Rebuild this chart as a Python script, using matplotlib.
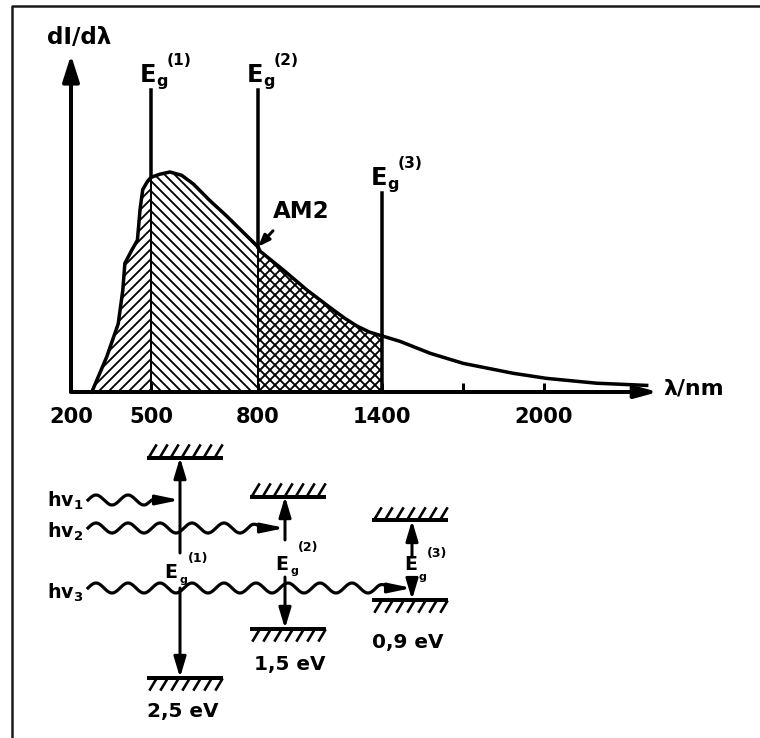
import numpy as np
import matplotlib.pyplot as plt

plt.rcParams['font.family'] = 'DejaVu Sans'
plt.rcParams['font.weight'] = 'bold'
plt.rcParams['mathtext.default'] = 'bf'
plt.rcParams['hatch.linewidth'] = 1.1
plt.rcParams['hatch.color'] = 'black'

# AM2 solar spectrum, relative units (peak = 1)
wl = [278, 334, 377, 394, 402, 428, 449, 459, 469, 486, 500, 525, 553, 586,
      619, 665, 712, 759, 800, 810, 922, 1036, 1164, 1220, 1278, 1340, 1400,
      1467, 1578, 1701, 1886, 2009, 2194, 2380]
dI = [0.0, 0.16, 0.31, 0.46, 0.585, 0.645, 0.69, 0.83, 0.92, 0.956, 0.976,
      0.99, 1.0, 0.985, 0.945, 0.87, 0.80, 0.725, 0.66, 0.64, 0.555, 0.464,
      0.373, 0.335, 0.30, 0.272, 0.255, 0.23, 0.176, 0.13, 0.085, 0.062,
      0.04, 0.03]
gap_nm = [500, 800, 1400]
tick_nm = [200, 500, 800, 1400, 1700, 2000]
tick_lbl = ['200', '500', '800', '1400', '', '2000']

# band gaps of the three absorbers
gap_eV = [2.5, 1.5, 0.9]
gap_lbl = ['2,5 eV', '1,5 eV', '0,9 eV']
photon_lbl = ['hv$_1$', 'hv$_2$', 'hv$_3$']

DPI = 120
W, H = 760, 738


def pt(px):
    return px * 72.0 / DPI


def box(x0, y0, x1, y1):
    return [x0 / W, 1 - y1 / H, (x1 - x0) / W, (y1 - y0) / H]


def ftxt(x, y, s, size, ha='center', va='baseline'):
    fig.text(x / W, 1 - y / H, s, fontsize=pt(size), ha=ha, va=va)


# wavelength axis is stretched unevenly (schematic)
knot_nm = [0, 200, 500, 800, 1400, 2000, 3000]
knot_px = [17.7, 71, 151, 258, 382, 544, 814]


def fwd(x):
    return np.interp(x, knot_nm, knot_px)


def inv(p):
    return np.interp(p, knot_px, knot_nm)


fig = plt.figure(figsize=(W / DPI, H / DPI), dpi=DPI)

# outer frame
bg = fig.add_axes([0, 0, 1, 1])
bg.set_xlim(0, W)
bg.set_ylim(H, 0)
bg.axis('off')
bg.plot([12, 12, 760], [738, 6, 6], color='#1a1a1a', lw=pt(2.5))

# ---- spectrum ----
PX_I = 220.0   # pixels per unit of dI
ax = fig.add_axes(box(71, 55, 658, 392))
ax.set_xscale('function', functions=(fwd, inv))
ax.set_xlim(200, 2422)
ax.set_ylim(0, 337 / PX_I)
ax.patch.set_alpha(0)
for s in ax.spines.values():
    s.set_visible(False)
ax.set_yticks([])
ax.set_xticks(tick_nm, tick_lbl)
ax.tick_params(axis='x', direction='in', length=pt(9), width=pt(3),
               pad=pt(15), labelsize=pt(21))

wl_a = np.array(wl)
dI_a = np.array(dI)
edges = [wl[0]] + gap_nm
for lo, hi, hat in zip(edges[:-1], edges[1:], ['////', '\\\\\\\\', 'xxxx']):
    m = (wl_a >= lo) & (wl_a <= hi)
    ax.fill_between(wl_a[m], 0, dI_a[m], facecolor='white', edgecolor='black',
                    hatch=hat, linewidth=0)
ax.plot(wl, dI, color='k', lw=pt(3.5), clip_on=False, solid_joinstyle='round')

gap_top = [1.373, 1.373, 0.905]
below_lw = [2.0, 2.0, 3.5]
for k, nm in enumerate(gap_nm):
    h = np.interp(nm, wl, dI)
    ax.plot([nm, nm], [h, gap_top[k]], color='k', lw=pt(3.5), clip_on=False)
    ax.plot([nm, nm], [0, h], color='k', lw=pt(below_lw[k]), clip_on=False)
    kw = dict(textcoords='offset points', ha='center', va='baseline',
              annotation_clip=False)
    ax.annotate('E', (nm, gap_top[k]), xytext=(pt(-3.5), pt(7.5)),
                fontsize=pt(24), **kw)
    ax.annotate('g', (nm, gap_top[k]), xytext=(pt(11), pt(4)),
                fontsize=pt(16), **kw)
    ax.annotate('(%d)' % (k + 1), (nm, gap_top[k]), xytext=(pt(28.5), pt(25)),
                fontsize=pt(15.5), **kw)

# axes arrows
ax.annotate('', xy=(200, 337 / PX_I), xytext=(200, 0), annotation_clip=False,
            arrowprops=dict(arrowstyle='-|>,head_length=1.1,head_width=0.35',
                            lw=pt(4), color='k', shrinkA=0, shrinkB=0,
                            mutation_scale=pt(20)))
ax.annotate('', xy=(2422, 0), xytext=(200, 0), annotation_clip=False,
            arrowprops=dict(arrowstyle='-|>,head_length=1.1,head_width=0.3',
                            lw=pt(4), color='k', shrinkA=0, shrinkB=0,
                            mutation_scale=pt(17)))

# AM2 pointer
ax.annotate('', xy=(800, np.interp(800, wl, dI)), xytext=(pt(15), pt(16)),
            textcoords='offset points', annotation_clip=False,
            arrowprops=dict(arrowstyle='-|>,head_length=0.8,head_width=0.3',
                            lw=pt(3), color='k', shrinkA=0, shrinkB=0,
                            mutation_scale=pt(12)))
ftxt(301, 211, 'AM2', 23, va='center')
ftxt(79, 38, 'dI/dλ', 23, va='center')
ftxt(663, 388, 'λ/nm', 22, ha='left', va='center')

# ---- band level diagram ----
EV = 88.0      # pixels per eV
MID = 564
bx = fig.add_axes([0, 0, 1, 1])
bx.set_xlim(0, W)
bx.set_ylim(-(H - MID) / EV, MID / EV)
bx.axis('off')


def ey(py):
    return (MID - np.asarray(py, dtype=float)) / EV


lvl_x = [147, 250, 372]
lvl_w = 76
lvl_mid = [-0.04, 0.017, 0.045]
stem_x = [180, 285, 412]
up_from = [553, 540, 557]
down_from = [588, 577, 578]
photon_y = [500, 528, 588]
photon_base = [507, 538, 599]

arrow_kw = dict(arrowstyle='-|>,head_length=1.0,head_width=0.3', lw=pt(3),
                color='k', shrinkA=0, shrinkB=0, mutation_scale=pt(17))

for i, E in enumerate(gap_eV):
    x0, x1 = lvl_x[i], lvl_x[i] + lvl_w
    top = lvl_mid[i] + E / 2
    bot = lvl_mid[i] - E / 2
    bx.plot([x0, x1], [top, top], color='k', lw=pt(4), solid_capstyle='butt')
    bx.plot([x0, x1], [bot, bot], color='k', lw=pt(4), solid_capstyle='butt')
    for xs in np.arange(x0 + 3, x1 - 4, 11):
        bx.plot([xs, xs + 6], [top + 2 / EV, top + 12 / EV], color='k', lw=pt(2.6))
        bx.plot([xs, xs + 6], [bot - 12 / EV, bot - 2 / EV], color='k', lw=pt(2.6))
    sx = stem_x[i]
    bx.annotate('', xy=(sx, top), xytext=(sx, ey(up_from[i])), arrowprops=arrow_kw)
    bx.annotate('', xy=(sx, bot), xytext=(sx, ey(down_from[i])), arrowprops=arrow_kw)

# photons
P, A = 32.0, 5.0
for i, py in enumerate(photon_y):
    x_end = stem_x[i]
    xs = np.linspace(88, x_end - 18, 400)
    taper = np.clip((x_end - 18 - xs) / 16.0, 0, 1)
    ys = py - A * taper * np.sin(2 * np.pi * (xs - 88) / P)
    bx.plot(xs, ey(ys), color='k', lw=pt(3.2))
    bx.annotate('', xy=(x_end, ey(py)), xytext=(x_end - 24, ey(py)),
                arrowprops=dict(arrowstyle='-|>,head_length=1.2,head_width=0.25',
                                lw=pt(3), color='k', shrinkA=0, shrinkB=0,
                                mutation_scale=pt(16)))
    ftxt(47, photon_base[i], photon_lbl[i], 19, ha='left')

# gap labels on the level diagram
e_x = [171, 282, 411]
e_base = [578, 570, 570]
g_x = [183, 294, 422]
g_base = [583, 574, 580]
s_x = [198, 308, 437]
s_base = [562, 551, 557]
for i in range(3):
    ftxt(e_x[i], e_base[i], 'E', 19)
    ftxt(g_x[i], g_base[i], 'g', 11)
    ftxt(s_x[i], s_base[i], '(%d)' % (i + 1), 12.5)

ev_x = [183, 290, 408]
ev_base = [717, 670, 648]
for i, t in enumerate(gap_lbl):
    ftxt(ev_x[i], ev_base[i], t, 20)

fig.savefig('out.png', dpi=DPI, facecolor='white')
